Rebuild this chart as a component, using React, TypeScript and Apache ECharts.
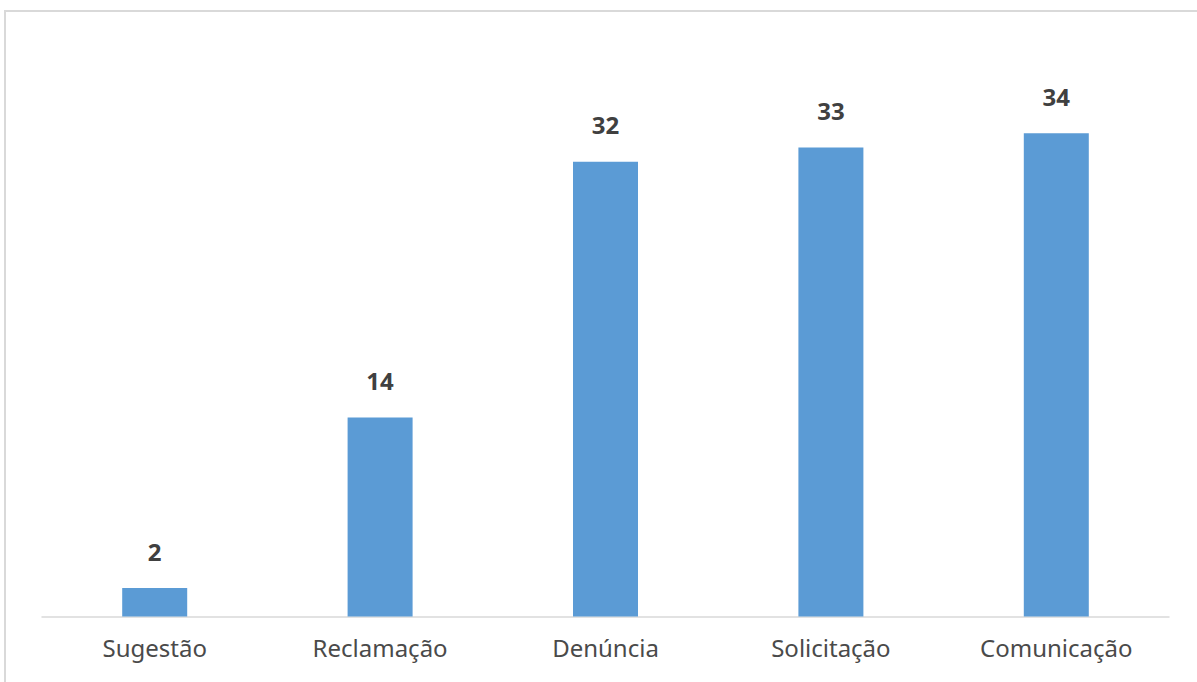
import React, { useEffect, useRef } from "react";
import * as echarts from "echarts";

const categories = ["Sugestão", "Reclamação", "Denúncia", "Solicitação", "Comunicação"];
const values = [2, 14, 32, 33, 34];

export default function App() {
  const ref = useRef<HTMLDivElement>(null);
  useEffect(() => {
    document.body.style.margin = "0";
    const chart = echarts.init(ref.current!, undefined, { renderer: "svg" });
    chart.setOption({
      animation: false,
      backgroundColor: "#ffffff",
      graphic: [
        {
          type: "rect",
          shape: { x: 5, y: 11, width: 1200, height: 690 },
          style: { fill: "none", stroke: "#d9d9d9", lineWidth: 2 },
          silent: true,
        },
      ],
      grid: { left: 42, right: 28, top: 48, bottom: 65.5 },
      xAxis: {
        type: "category",
        data: categories,
        axisLine: { lineStyle: { color: "#d9d9d9", width: 1.5 } },
        axisTick: { show: false },
        axisLabel: {
          color: "#4a4a4a",
          fontSize: 24,
          fontFamily: "Noto Sans",
          margin: 19,
        },
      },
      yAxis: {
        type: "value",
        min: 0,
        max: 40,
        show: false,
        splitLine: { show: false },
      },
      series: [
        {
          type: "bar",
          data: values,
          barWidth: 65,
          itemStyle: { color: "#5b9bd5" },
          label: {
            show: true,
            position: "top",
            distance: 25,
            color: "#404040",
            fontSize: 24,
            fontWeight: "bold",
            fontFamily: "Noto Sans",
          },
        },
      ],
    });
    return () => chart.dispose();
  }, []);
  return <div ref={ref} style={{ position: "absolute", left: 0, top: 0, width: 1197, height: 682 }} />;
}
